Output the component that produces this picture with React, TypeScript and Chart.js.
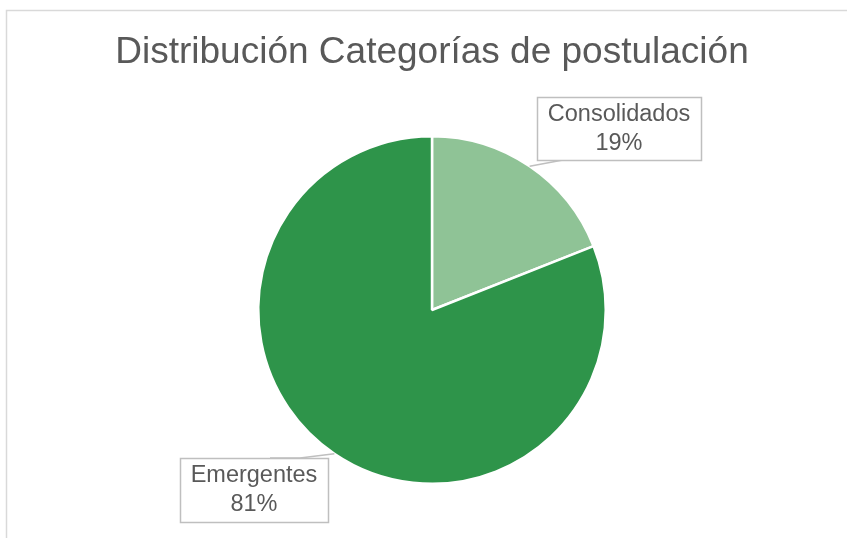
import React, { useEffect, useRef } from "react";
import { Chart, registerables } from "chart.js";

Chart.register(...registerables);

const TITLE = "Distribución Categorías de postulación";
const categories = ["Consolidados", "Emergentes"];
const values = [19, 81];
const percentLabels = ["19%", "81%"];
const colors = ["#8FC396", "#2E944A"];

const FONT = "'Liberation Sans', Arial, sans-serif";
const TEXT_COLOR = "#595959";

// label box layout (left, top, width, height) and leader-line elbow
const LABEL_LAYOUT = [
  { x: 537, y: 97, w: 164, h: 63, elbowX: 563, endX: 600, lineY: 160 },
  { x: 180, y: 458, w: 148, h: 64, elbowX: 300, endX: 270, lineY: 458 },
];

const overlayPlugin = {
  id: "overlay",
  afterDraw(chart: any) {
    const ctx = chart.ctx as CanvasRenderingContext2D;
    ctx.save();
    // frame
    ctx.strokeStyle = "#D9D9D9";
    ctx.lineWidth = 1.5;
    ctx.beginPath();
    ctx.moveTo(6.5, 560);
    ctx.lineTo(6.5, 10.5);
    ctx.lineTo(900, 10.5);
    ctx.stroke();

    // title
    ctx.fillStyle = TEXT_COLOR;
    ctx.font = `37px ${FONT}`;
    ctx.textAlign = "center";
    ctx.textBaseline = "middle";
    ctx.fillText(TITLE, 432, 53);

    // labels
    const meta = chart.getDatasetMeta(0);
    meta.data.forEach((arc: any, i: number) => {
      const L = LABEL_LAYOUT[i];
      const mid = (arc.startAngle + arc.endAngle) / 2;
      const ex = arc.x + Math.cos(mid) * arc.outerRadius;
      const ey = arc.y + Math.sin(mid) * arc.outerRadius;
      ctx.strokeStyle = "#BFBFBF";
      ctx.lineWidth = 1.5;
      ctx.beginPath();
      ctx.moveTo(ex, ey);
      ctx.lineTo(L.elbowX, L.lineY);
      ctx.lineTo(L.endX, L.lineY);
      ctx.stroke();

      ctx.fillStyle = "#FFFFFF";
      ctx.fillRect(L.x, L.y, L.w, L.h);
      ctx.strokeStyle = "#BFBFBF";
      ctx.strokeRect(L.x + 0.5, L.y + 0.5, L.w, L.h);

      ctx.fillStyle = TEXT_COLOR;
      ctx.font = `23.5px ${FONT}`;
      ctx.textAlign = "center";
      ctx.textBaseline = "middle";
      const cx = L.x + L.w / 2;
      ctx.fillText(categories[i], cx, L.y + L.h / 2 - 14);
      ctx.fillText(percentLabels[i], cx, L.y + L.h / 2 + 15);
    });
    ctx.restore();
  },
};

export default function App() {
  const ref = useRef<HTMLCanvasElement | null>(null);
  useEffect(() => {
    if (!ref.current) return;
    const chart = new Chart(ref.current, {
      type: "pie",
      data: {
        labels: categories,
        datasets: [
          {
            data: values,
            backgroundColor: colors,
            borderColor: "#FFFFFF",
            borderWidth: 2.5,
          },
        ],
      },
      options: {
        responsive: false,
        animation: false,
        layout: { padding: { left: 257, right: 240, top: 135, bottom: 53 } },
        plugins: {
          legend: { display: false },
          title: { display: false },
          tooltip: { enabled: false },
        },
      },
      plugins: [overlayPlugin],
    });
    return () => chart.destroy();
  }, []);
  return (
    <div style={{ position: "fixed", left: 0, top: 0, width: 847, height: 538, background: "#fff", overflow: "hidden" }}>
      <canvas ref={ref} width={847} height={538} />
    </div>
  );
}
